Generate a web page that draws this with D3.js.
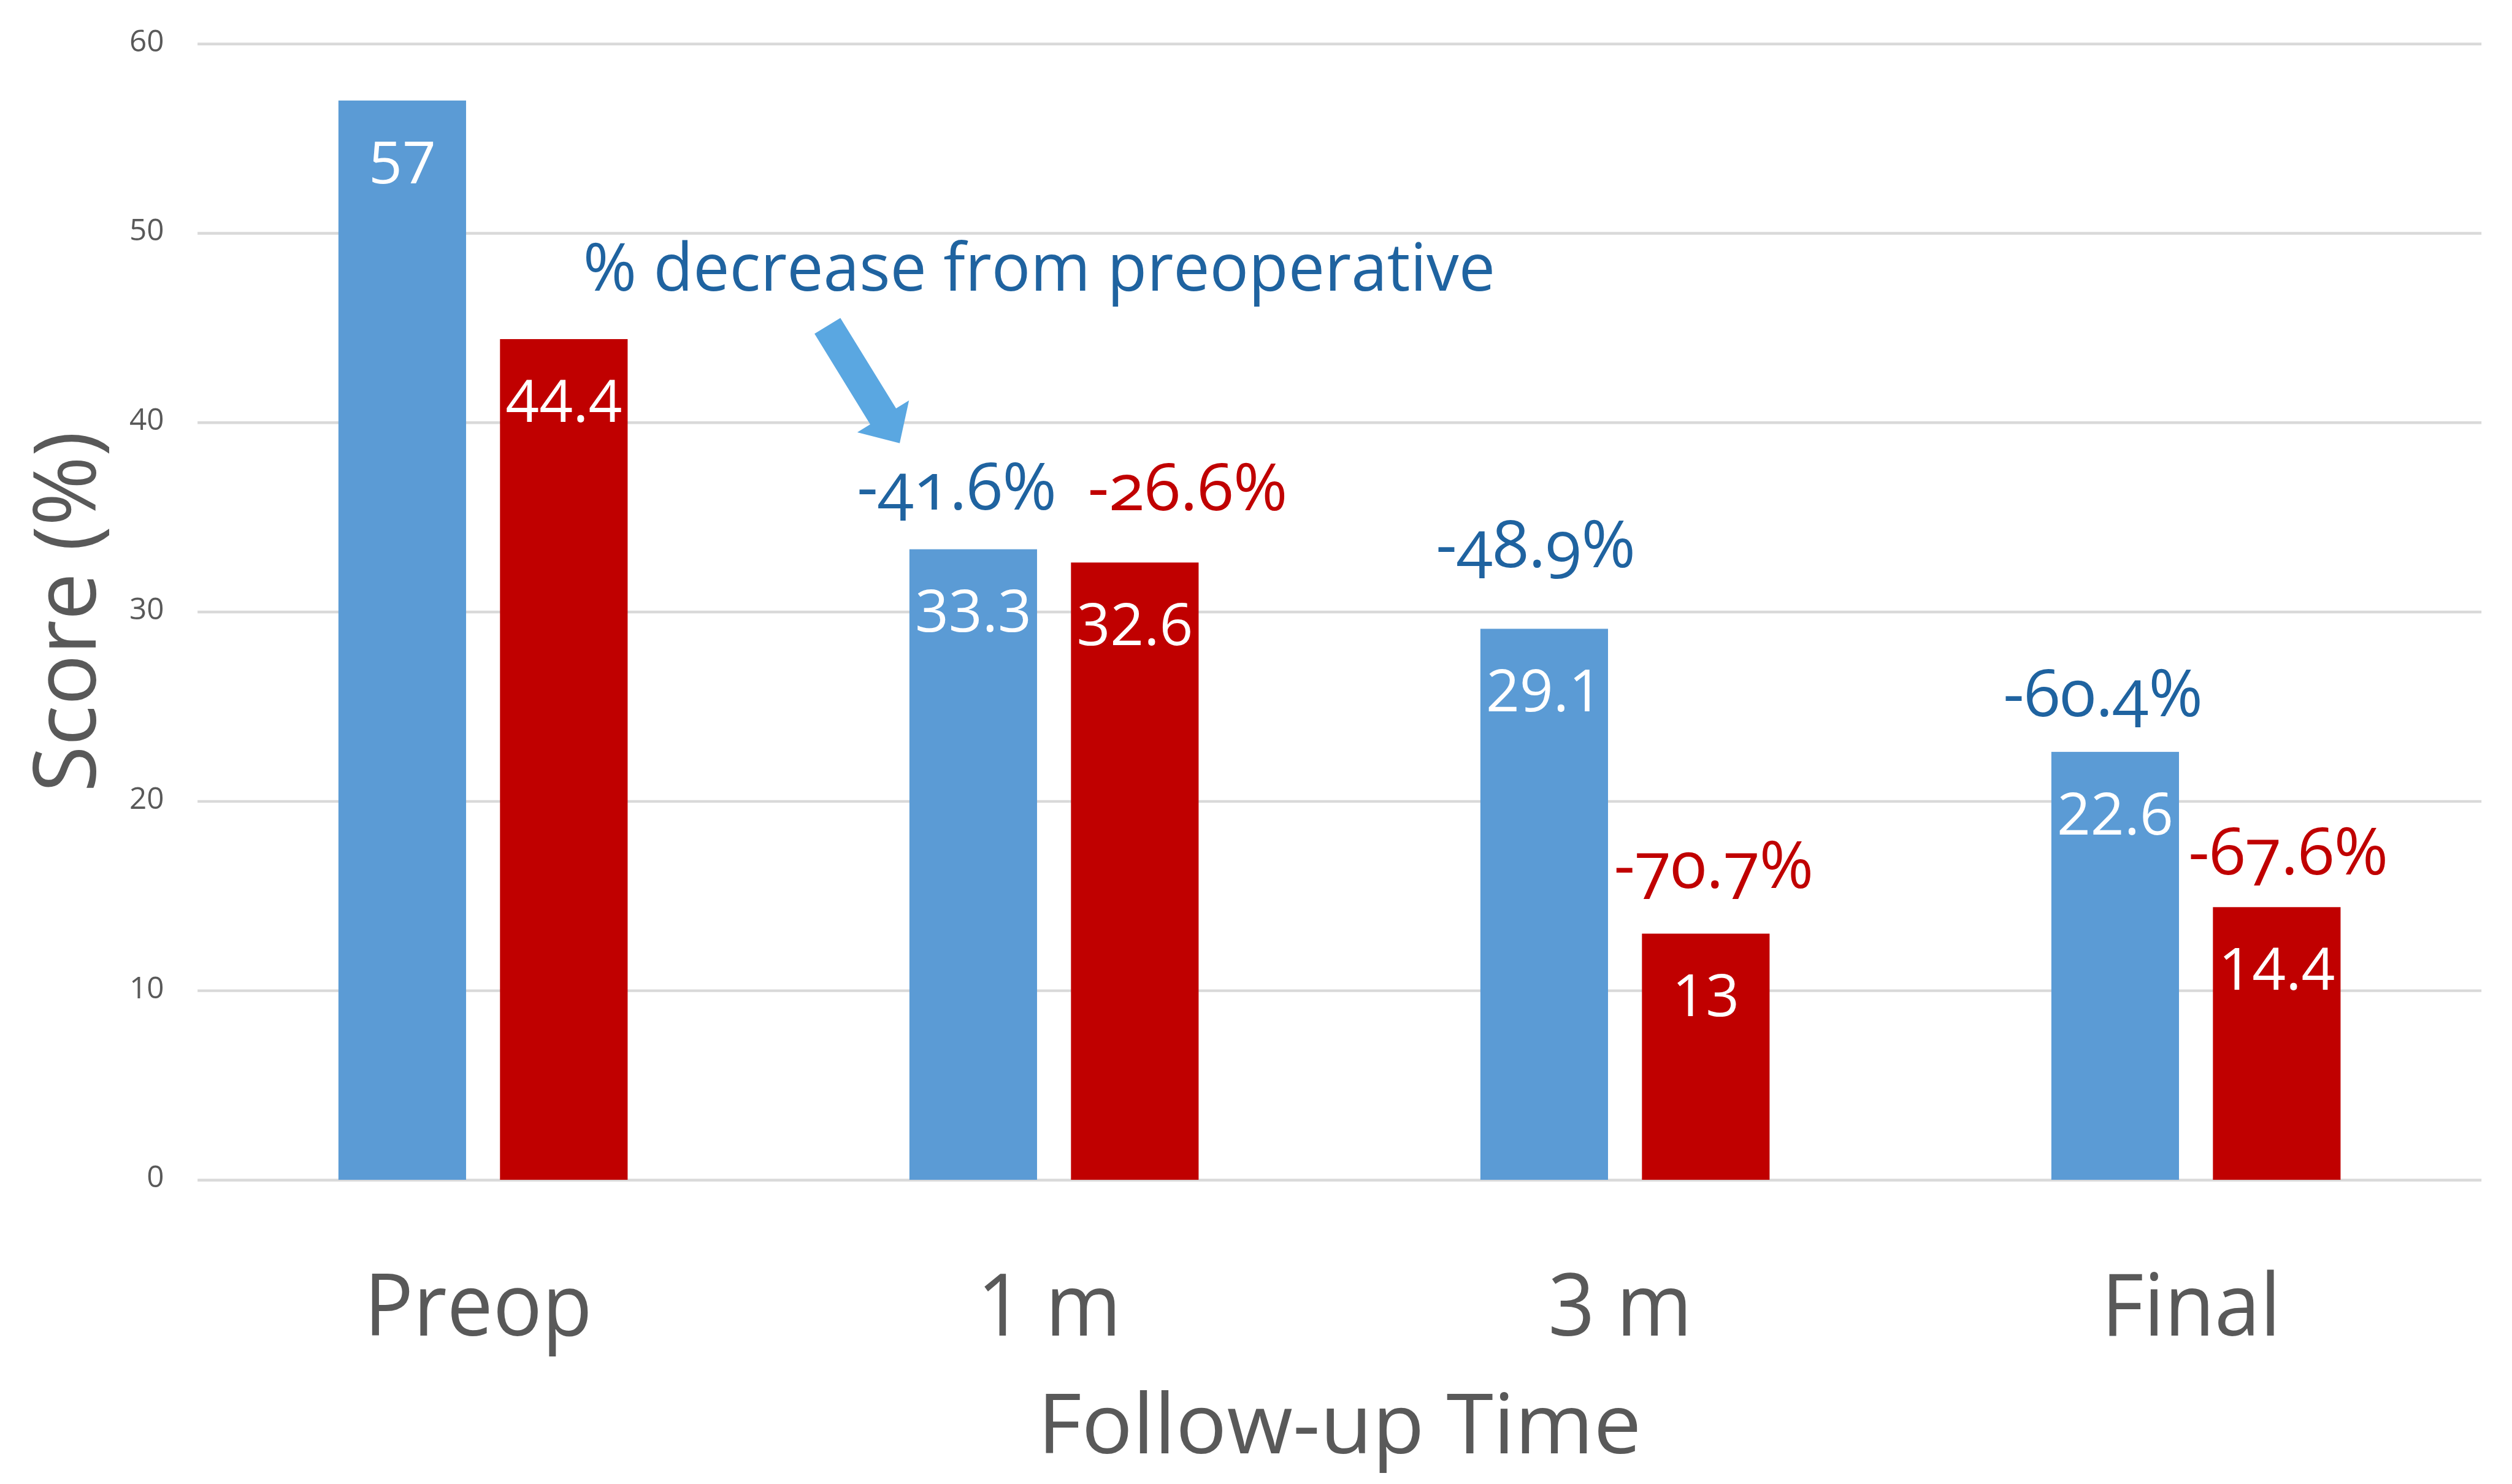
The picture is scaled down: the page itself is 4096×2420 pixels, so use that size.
<!DOCTYPE html>
<html>
<head>
<meta charset="utf-8">
<script src="https://cdn.jsdelivr.net/npm/d3@7/dist/d3.min.js"></script>
<style>
  html, body { margin: 0; padding: 0; background: #ffffff; }
  svg { display: block; }
  text { font-family: "Open Sans", "Noto Sans", sans-serif; }
</style>
</head>
<body>
<svg id="chart"></svg>
<script>
// Scores at each follow-up visit for the two groups
const categories = ["Preop", "1 m", "3 m", "Final"];
const seriesKeys = ["A", "B"];
const valuesA = [57, 33.3, 29.1, 22.6];
const valuesB = [44.4, 32.6, 13, 14.4];
// change from the preoperative score
const changeA = [null, "-41.6%", "-48.9%", "-60.4%"];
const changeB = [null, "-26.6%", "-70.7%", "-67.6%"];
const yTicks = [0, 10, 20, 30, 40, 50, 60];

// label placement: [dx from bar centre, height above bar top]
const changeOffsetA = [null, [-27, 65], [-14, 101], [-20, 59]];
const changeOffsetB = [null, [87, 86], [13, 75], [19, 54]];

const W = 4136, H = 2444;
const colorA = "#5B9BD5", colorB = "#C00000";
const noteBlue = "#1F63A0", noteRed = "#C00000";
const axisGray = "#595959";

const svg = d3.select("#chart")
  .attr("width", 4096).attr("height", 2420)
  .attr("viewBox", `0 0 ${W} ${H}`);

const plot = { left: 325, right: 4086, top: 72, bottom: 1943 };

const x = d3.scaleBand().domain(categories).range([plot.left, plot.right]);
const xs = d3.scaleBand().domain(seriesKeys).range([0, x.bandwidth()])
  .paddingInner(0.21).paddingOuter(0.872);
const y = d3.scaleLinear().domain([0, 60]).range([plot.bottom, plot.top]);

// gridlines + tick labels
const yAxis = d3.axisLeft(y).tickValues(yTicks)
  .tickSize(-(plot.right - plot.left)).tickPadding(55);
const ga = svg.append("g").attr("transform", `translate(${plot.left},0)`).call(yAxis);
ga.select(".domain").remove();
ga.selectAll(".tick line").attr("stroke", "#D9D9D9").attr("stroke-width", 4.5);
ga.selectAll(".tick text")
  .attr("dy", 12).attr("fill", axisGray)
  .style("font-size", "50px").style("font-family", "'Open Sans', sans-serif");

// bars
const rows = categories.map((c, i) => ({ cat: c, i, A: valuesA[i], B: valuesB[i] }));
const groups = svg.append("g").selectAll("g").data(rows).join("g")
  .attr("transform", d => `translate(${x(d.cat)},0)`);

const bars = groups.selectAll("g.bar")
  .data(d => seriesKeys.map(k => ({ key: k, value: d[k], i: d.i })))
  .join("g").attr("class", "bar");

bars.append("rect")
  .attr("x", d => xs(d.key))
  .attr("width", xs.bandwidth())
  .attr("y", d => y(d.value))
  .attr("height", d => y(0) - y(d.value))
  .attr("fill", d => d.key === "A" ? colorA : colorB);

// values inside the top of each bar
bars.append("text")
  .attr("x", d => xs(d.key) + xs.bandwidth() / 2)
  .attr("y", d => y(d.value) + 136)
  .attr("text-anchor", "middle")
  .attr("fill", "#ffffff")
  .style("font-size", "97px")
  .text(d => d.value);

// percentage change above the later bars
bars.filter(d => d.i > 0).append("text")
  .attr("x", d => {
    const off = d.key === "A" ? changeOffsetA[d.i] : changeOffsetB[d.i];
    return xs(d.key) + xs.bandwidth() / 2 + off[0];
  })
  .attr("y", d => {
    const off = d.key === "A" ? changeOffsetA[d.i] : changeOffsetB[d.i];
    return y(d.value) - off[1];
  })
  .attr("text-anchor", "middle")
  .attr("fill", d => d.key === "A" ? noteBlue : noteRed)
  .style("font-size", "108px")
  .style("font-feature-settings", "'onum' 1")
  .text(d => d.key === "A" ? changeA[d.i] : changeB[d.i]);

// category labels
svg.append("g").selectAll("text").data(categories).join("text")
  .attr("x", d => x(d) + x.bandwidth() / 2 - 8)
  .attr("y", 2200)
  .attr("text-anchor", "middle")
  .attr("fill", axisGray)
  .style("font-size", "142px")
  .text(d => d)
  .each(function () {
    const len = this.getComputedTextLength();
    d3.select(this).attr("textLength", len * 0.95).attr("lengthAdjust", "spacingAndGlyphs");
  });

// axis titles
svg.append("text")
  .attr("x", (plot.left + plot.right) / 2)
  .attr("y", 2394)
  .attr("text-anchor", "middle")
  .attr("fill", axisGray)
  .style("font-size", "136px")
  .attr("textLength", 994).attr("lengthAdjust", "spacingAndGlyphs")
  .text("Follow-up Time");

svg.append("text")
  .attr("transform", `translate(157,${(plot.top + plot.bottom) / 2}) rotate(-90)`)
  .attr("text-anchor", "middle")
  .attr("fill", axisGray)
  .style("font-size", "143px")
  .attr("textLength", 594).attr("lengthAdjust", "spacingAndGlyphs")
  .text("Score (%)");

// note and pointer arrow
svg.append("text")
  .attr("x", 960).attr("y", 479)
  .attr("fill", noteBlue)
  .style("font-size", "110px")
  .attr("textLength", 1502).attr("lengthAdjust", "spacingAndGlyphs")
  .text("% decrease from preoperative");

const barLeft1m = x("1 m") + xs("A");
const tail = [barLeft1m - 135, y(45.1)];
const tip = [barLeft1m - 16, y(38.9)];
const dx = tip[0] - tail[0], dy = tip[1] - tail[1];
const L = Math.hypot(dx, dy);
const u = [dx / L, dy / L], p = [u[1], -u[0]];
const shaftHalf = 25, headHalf = 50, headLen = 52;
const base = [tip[0] - u[0] * headLen, tip[1] - u[1] * headLen];
const pt = (o, s) => [o[0] + p[0] * s, o[1] + p[1] * s];
const arrowPts = [
  pt(tail, shaftHalf), pt(base, shaftHalf), pt(base, headHalf), tip,
  pt(base, -headHalf), pt(base, -shaftHalf), pt(tail, -shaftHalf)
];
svg.append("polygon")
  .attr("points", arrowPts.map(q => q.join(",")).join(" "))
  .attr("fill", "#5AA7E1");
</script>
</body>
</html>
